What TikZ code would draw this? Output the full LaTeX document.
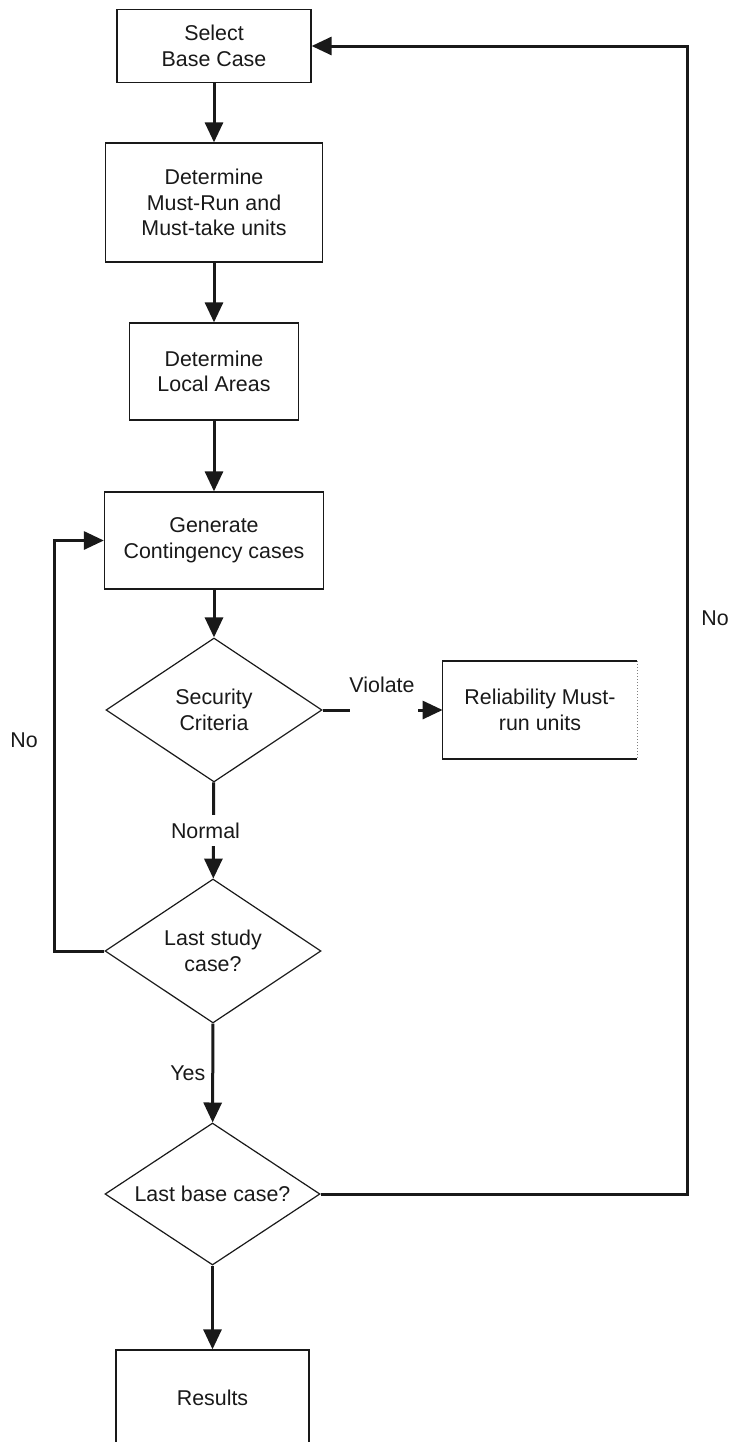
\documentclass[tikz,border=0pt]{standalone}
\usepackage{fontspec}
\setmainfont{Liberation Sans}
\usetikzlibrary{shapes.geometric,arrows.meta}
\definecolor{ink}{RGB}{25,25,25}
\begin{document}
\begin{tikzpicture}[x=0.5pt,y=-0.5pt,
  font=\fontsize{10.7}{12.8}\selectfont,
  box/.style={draw=ink, line width=0.65pt, align=center, inner sep=0pt, text=ink},
  dia/.style={diamond, aspect=1.5, draw=ink, line width=0.6pt, align=center, inner sep=0pt, text=ink},
  conn/.style={draw=ink, line width=1.5pt},
  arr/.style={conn, -{Triangle[width=9pt,length=10pt]}},
  lbl/.style={text=ink, inner sep=0pt}]
\useasboundingbox (0,0) rectangle (734,1442);
\clip (0,0) rectangle (734,1442);
\fill[white] (0,0) rectangle (734,1442);

% nodes
\node[box, minimum width=97pt, minimum height=36.5pt] (b1) at (214,46) {Select\\Base Case};
\node[box, minimum width=108.5pt, minimum height=59.5pt] (b2) at (214,202.5) {Determine\\Must-Run and\\Must-take units};
\node[box, minimum width=84.5pt, minimum height=48.5pt] (b3) at (214,371.5) {Determine\\Local Areas};
\node[box, minimum width=109.5pt, minimum height=48.5pt] (b4) at (214,540.5) {Generate\\Contingency cases};
\node[dia, minimum width=108pt, minimum height=72pt] (d1) at (214,710) {Security\\Criteria};
\node[draw=none, align=center, inner sep=0pt, text=ink, minimum width=97pt, minimum height=48.5pt] (b5) at (540,710) {Reliability Must-\\run units};
\node[dia, minimum width=108pt, minimum height=72pt] (d2) at (213,951) {Last study\\case?};
\node[dia, minimum width=107.5pt, minimum height=71pt] (d3) at (212.5,1194) {Last base case?};
\node[box, minimum width=96.5pt, minimum height=48pt] (res) at (212.5,1398) {Results};

% box 5 outline (right side faint, as scanned)
\draw[draw=ink, line width=0.65pt] (b5.north east) -- (b5.north west) -- (b5.south west) -- (b5.south east);
\draw[draw=gray, line width=0.5pt, densely dotted] (b5.north east) -- (b5.south east);

% labels
\node[lbl] (violate) at (382,685) {Violate};
\node[lbl] (noright) at (715,618) {No};
\node[lbl] (noleft) at (24,740) {No};

% helper coordinates
\coordinate (rc) at (687,0);
\coordinate (vs) at (418,710);

% connectors
\draw[arr] (b1) -- (b2);
\draw[arr] (b2) -- (b3);
\draw[arr] (b3) -- (b4);
\draw[arr] (b4) -- (d1);
\draw[arr] (d1) -- node[lbl, fill=white, inner ysep=4pt, inner xsep=1pt, xshift=-4pt] (normal) {Normal} (d2);
\draw[arr] (d2) -- node[lbl, left, inner sep=3pt] (yes) {Yes} (d3);
\draw[arr] (d3) -- (res);
\draw[conn] (d1.east) -- ++(27,0);
\draw[arr] (vs) -- (b5.west);
\draw[arr] (d2.west) -- ++(-50,0) |- (b4.west);
\draw[arr] (d3.east) -- (d3.east -| rc) |- (b1.east);
\end{tikzpicture}
\end{document}
